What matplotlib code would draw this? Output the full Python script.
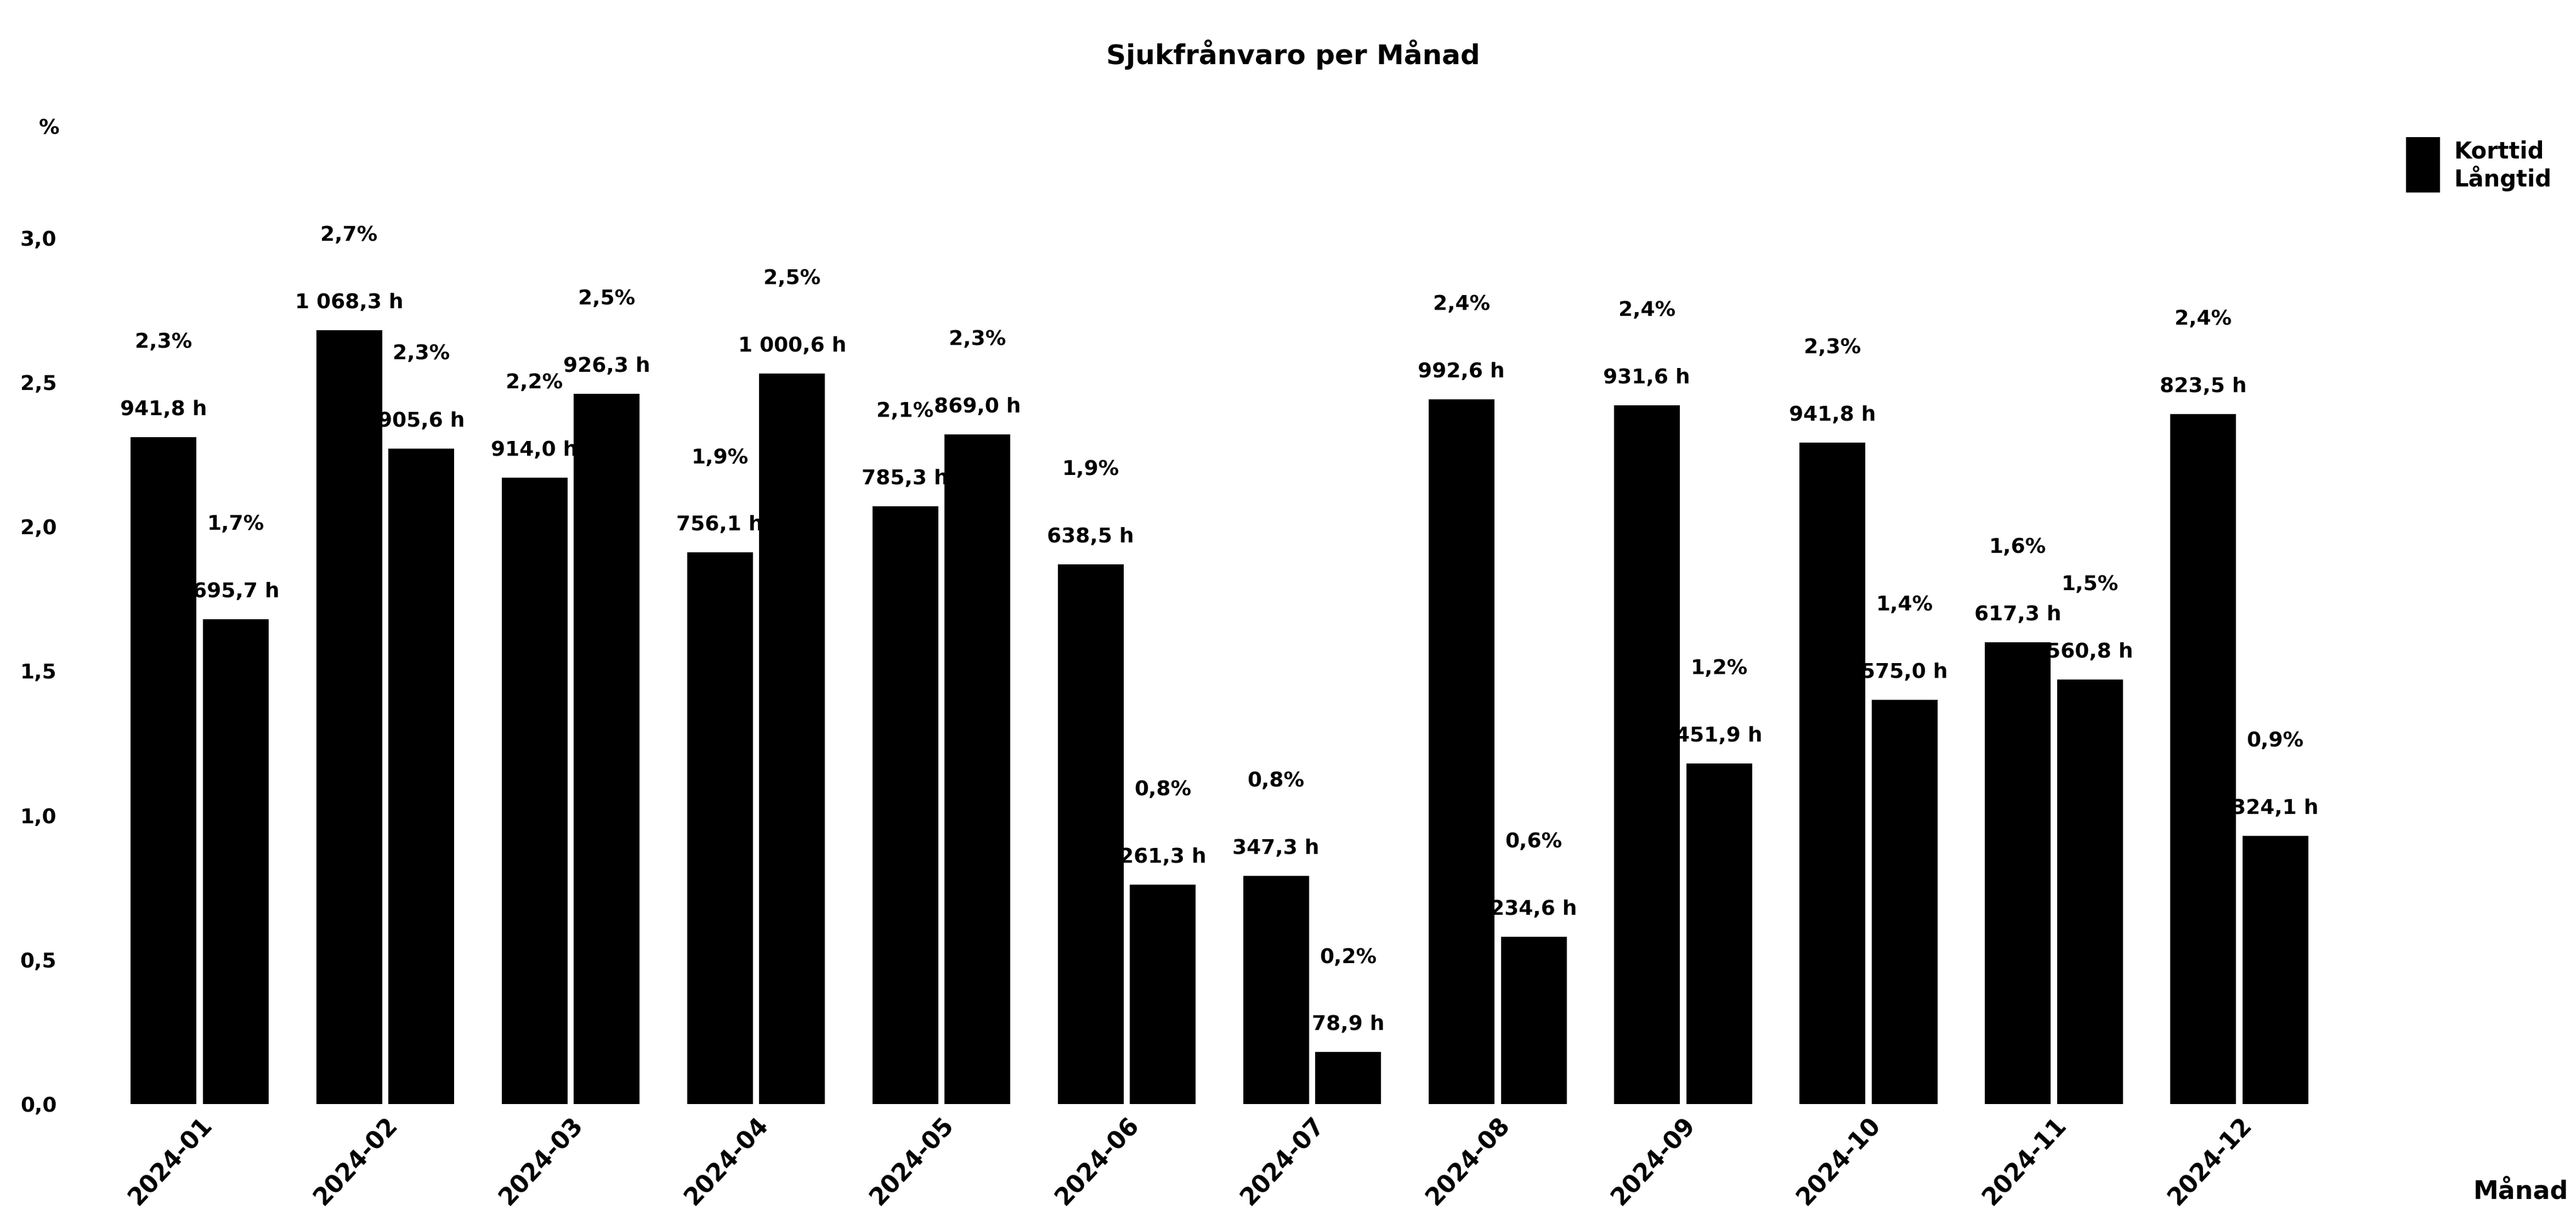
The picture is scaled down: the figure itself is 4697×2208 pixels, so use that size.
## 
# plot.py draws the monthly sick leave chart (Sjukfrånvaro per Månad)
# as grouped bars, short term and long term, with labels on top

import numpy as np
import matplotlib
matplotlib.use('Agg')
import matplotlib.pyplot as plt
from matplotlib.patches import Patch

## data
manader = ['2024-01', '2024-02', '2024-03', '2024-04', '2024-05', '2024-06',
           '2024-07', '2024-08', '2024-09', '2024-10', '2024-11', '2024-12']

# percent of hours, bar heights
korttid_pct = [2.31, 2.68, 2.17, 1.91, 2.07, 1.87, 0.79, 2.44, 2.42, 2.29, 1.60, 2.39]
langtid_pct = [1.68, 2.27, 2.46, 2.53, 2.32, 0.76, 0.18, 0.58, 1.18, 1.40, 1.47, 0.93]

# hours
korttid_h = [941.8, 1068.3, 914.0, 756.1, 785.3, 638.5, 347.3, 992.6, 931.6, 941.8, 617.3, 823.5]
langtid_h = [695.7, 905.6, 926.3, 1000.6, 869.0, 261.3, 78.9, 234.6, 451.9, 575.0, 560.8, 324.1]

serier = ['Korttid', 'Långtid']
ytick_values = [0.0, 0.5, 1.0, 1.5, 2.0, 2.5, 3.0]


## swedish style number formats
def fmt_pct(v):
    return ('%.1f%%' % v).replace('.', ',')


def fmt_h(v):
    s = '{:,.1f}'.format(v)
    s = s.replace(',', ' ').replace('.', ',')
    return s + ' h'


plt.rcParams['font.family'] = ['DejaVu Sans']

fig = plt.figure(figsize=(4697 / 300, 2208 / 300), dpi=300)
ax = fig.add_axes([0.0344, 0.0882, 0.878, 0.787])

x = np.arange(len(manader))
w = 0.355
off = 0.195

bars_k = ax.bar(x - off, korttid_pct, width=w, color='black', label=serier[0])
bars_l = ax.bar(x + off, langtid_pct, width=w, color='black', label=serier[1])

# labels above each bar: hours close to bar, percent above
for bars, pct, hrs in [(bars_k, korttid_pct, korttid_h), (bars_l, langtid_pct, langtid_h)]:
    for b, p, h in zip(bars, pct, hrs):
        cx = b.get_x() + b.get_width() / 2
        top = b.get_height()
        ax.annotate(fmt_h(h), (cx, top), xytext=(0, 12), textcoords='offset points',
                    ha='center', va='center', fontsize=9, fontweight='bold')
        ax.annotate(fmt_pct(p), (cx, top), xytext=(0, 41.5), textcoords='offset points',
                    ha='center', va='center', fontsize=9, fontweight='bold')

ax.set_xlim(-0.6, 11.6)
ax.set_ylim(0, 3.3)
ax.set_yticks(ytick_values)
ax.set_yticklabels([('%.1f' % v).replace('.', ',') for v in ytick_values],
                   fontsize=9, fontweight='bold')
ax.set_xticks(x)
ax.set_xticklabels(manader, rotation=47, ha='right', rotation_mode='anchor',
                   fontsize=10.5, fontweight='bold')
ax.tick_params(axis='both', length=0)
ax.tick_params(axis='y', pad=14)
ax.tick_params(axis='x', pad=4)
for s in ax.spines.values():
    s.set_visible(False)

fig.text(0.502, 0.955, 'Sjukfrånvaro per Månad', ha='center', va='center',
         fontsize=12, fontweight='bold')
fig.text(0.019, 0.894, '%', ha='center', va='center', fontsize=9, fontweight='bold')
fig.text(0.997, 0.016, 'Månad', ha='right', va='center', fontsize=11, fontweight='bold')

handles = [Patch(facecolor='black', label=s) for s in serier]
leg = fig.legend(handles=handles, loc='upper left', bbox_to_anchor=(0.934, 0.887),
                 frameon=False, fontsize=10, handlelength=1.5, handleheight=1.5,
                 handletextpad=0.6, labelspacing=0.0, borderaxespad=0, borderpad=0)
for t in leg.get_texts():
    t.set_fontweight('bold')

fig.savefig('out.png', dpi=300)
